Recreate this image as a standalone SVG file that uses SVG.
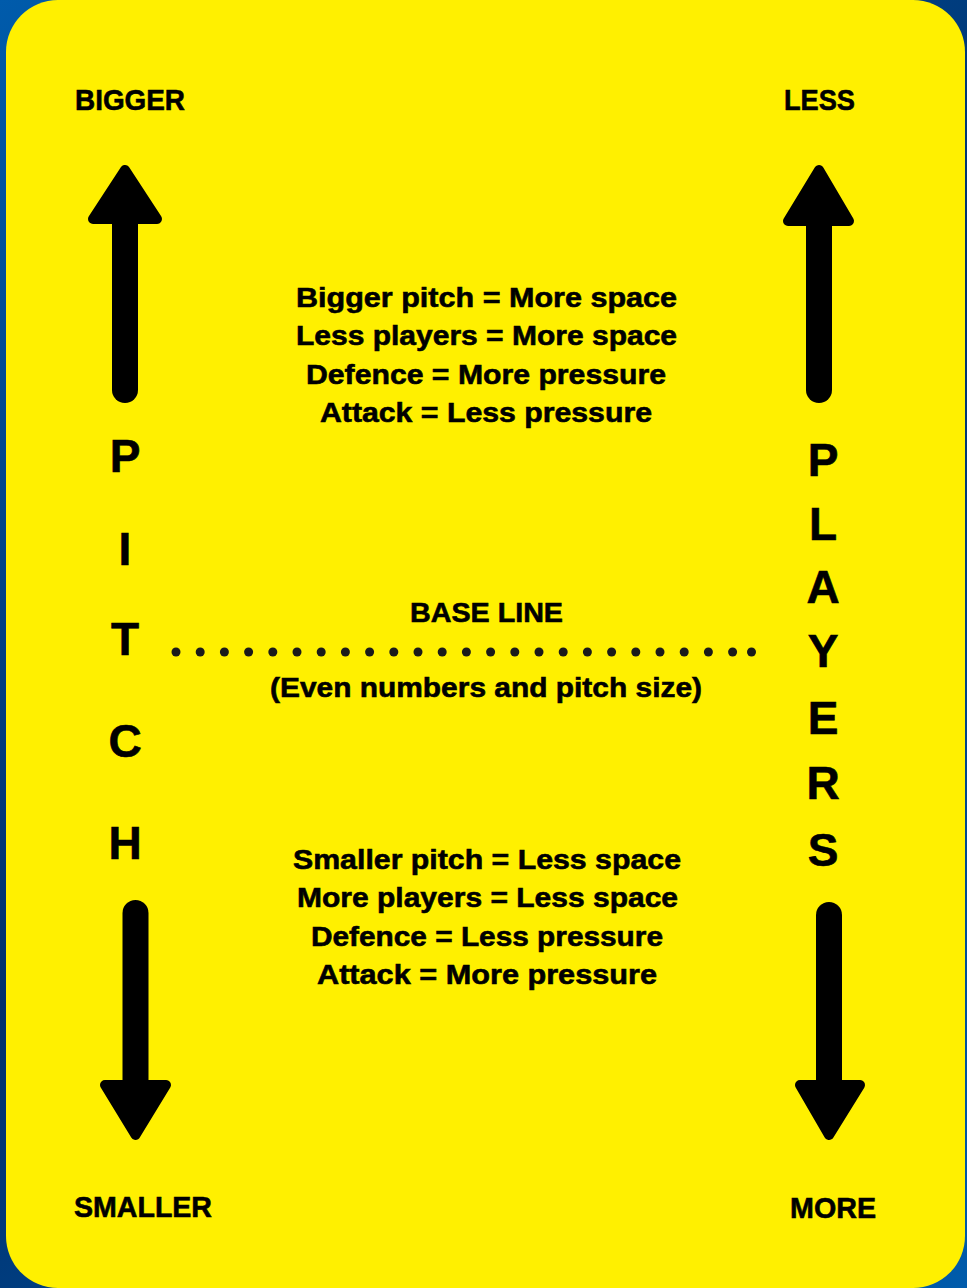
<svg xmlns="http://www.w3.org/2000/svg" width="967" height="1288" viewBox="0 0 967 1288">
<defs>
<linearGradient id="bg" x1="0" y1="0" x2="967" y2="1288" gradientUnits="userSpaceOnUse">
<stop offset="0" stop-color="#005bab"/>
<stop offset="0.5" stop-color="#00306c"/>
<stop offset="1" stop-color="#005bab"/>
</linearGradient>
<style>
.t{font-family:"Liberation Sans",Arial,sans-serif;font-weight:bold;fill:#000;stroke:#000;stroke-width:0.6;}
.lbl{font-size:30px;}
.body{font-size:28.5px;}
.v{font-size:46px;text-anchor:middle;}
.shaft{stroke:#000;stroke-width:26;stroke-linecap:round;fill:none;}
.head{fill:#000;stroke:#000;stroke-width:10;stroke-linejoin:round;}
.dot{fill:#1a1a1a;}
</style>
</defs>
<rect x="0" y="0" width="967" height="1288" fill="url(#bg)"/>
<rect x="6" y="0" width="959" height="1288" rx="52" ry="52" fill="#fff000"/>

<g id="connectors">
<g id="arrow-pitch-up"><line class="shaft" x1="125" y1="215" x2="125" y2="390"/><polygon class="head" points="125,170 157,219 93,219"/></g>
<g id="arrow-players-up"><line class="shaft" x1="819" y1="215" x2="819" y2="390"/><polygon class="head" points="819,170 849,221 788,221"/></g>
<g id="arrow-pitch-down"><line class="shaft" x1="135.5" y1="913" x2="135.5" y2="1085"/><polygon class="head" points="135.5,1135 166,1085 105,1085"/></g>
<g id="arrow-players-down"><line class="shaft" x1="829" y1="915" x2="829" y2="1085"/><polygon class="head" points="829,1135 860,1085 800,1085"/></g>
<g id="baseline-dots">
<circle class="dot" cx="176" cy="652" r="4.5"/><circle class="dot" cx="200.2" cy="652" r="4.5"/><circle class="dot" cx="224.4" cy="652" r="4.5"/><circle class="dot" cx="248.6" cy="652" r="4.5"/><circle class="dot" cx="272.8" cy="652" r="4.5"/><circle class="dot" cx="297" cy="652" r="4.5"/><circle class="dot" cx="321.2" cy="652" r="4.5"/><circle class="dot" cx="345.4" cy="652" r="4.5"/><circle class="dot" cx="369.6" cy="652" r="4.5"/><circle class="dot" cx="393.8" cy="652" r="4.5"/><circle class="dot" cx="418" cy="652" r="4.5"/><circle class="dot" cx="442.2" cy="652" r="4.5"/><circle class="dot" cx="466.4" cy="652" r="4.5"/><circle class="dot" cx="490.6" cy="652" r="4.5"/><circle class="dot" cx="514.8" cy="652" r="4.5"/><circle class="dot" cx="539" cy="652" r="4.5"/><circle class="dot" cx="563.2" cy="652" r="4.5"/><circle class="dot" cx="587.4" cy="652" r="4.5"/><circle class="dot" cx="611.6" cy="652" r="4.5"/><circle class="dot" cx="635.8" cy="652" r="4.5"/><circle class="dot" cx="660" cy="652" r="4.5"/><circle class="dot" cx="684.2" cy="652" r="4.5"/><circle class="dot" cx="708.4" cy="652" r="4.5"/><circle class="dot" cx="732.6" cy="652" r="4.5"/><circle class="dot" cx="751.5" cy="652" r="4.5"/>
</g>
</g>

<g id="label-bigger"><text class="t lbl" x="75" y="110" textLength="110" lengthAdjust="spacingAndGlyphs">BIGGER</text></g>
<g id="label-less"><text class="t lbl" x="784" y="110" textLength="71" lengthAdjust="spacingAndGlyphs">LESS</text></g>
<g id="label-smaller"><text class="t lbl" x="74" y="1217" textLength="138" lengthAdjust="spacingAndGlyphs">SMALLER</text></g>
<g id="label-more"><text class="t lbl" x="790" y="1218" textLength="86" lengthAdjust="spacingAndGlyphs">MORE</text></g>

<g id="pitch-word">
<text class="t v" x="125" y="472">P</text>
<text class="t v" x="125" y="565">I</text>
<text class="t v" x="125" y="655">T</text>
<text class="t v" x="125" y="757">C</text>
<text class="t v" x="125" y="859">H</text>
</g>
<g id="players-word">
<text class="t v" x="823" y="476">P</text>
<text class="t v" x="823" y="540">L</text>
<text class="t v" x="823" y="603">A</text>
<text class="t v" x="823" y="667">Y</text>
<text class="t v" x="823" y="734">E</text>
<text class="t v" x="823" y="799">R</text>
<text class="t v" x="823" y="866">S</text>
</g>

<g id="top-text">
<text class="t body" x="296" y="307" textLength="381" lengthAdjust="spacingAndGlyphs">Bigger pitch = More space</text>
<text class="t body" x="296" y="345" textLength="381" lengthAdjust="spacingAndGlyphs">Less players = More space</text>
<text class="t body" x="306" y="384" textLength="360" lengthAdjust="spacingAndGlyphs">Defence = More pressure</text>
<text class="t body" x="320" y="422" textLength="332" lengthAdjust="spacingAndGlyphs">Attack = Less pressure</text>
</g>

<g id="base-line">
<text class="t body" x="410" y="622" textLength="153" lengthAdjust="spacingAndGlyphs">BASE LINE</text>
<text class="t body" x="270" y="697" textLength="432" lengthAdjust="spacingAndGlyphs">(Even numbers and pitch size)</text>
</g>

<g id="bottom-text">
<text class="t body" x="293" y="869" textLength="388" lengthAdjust="spacingAndGlyphs">Smaller pitch = Less space</text>
<text class="t body" x="297" y="907" textLength="381" lengthAdjust="spacingAndGlyphs">More players = Less space</text>
<text class="t body" x="311" y="946" textLength="352" lengthAdjust="spacingAndGlyphs">Defence = Less pressure</text>
<text class="t body" x="317" y="984" textLength="340" lengthAdjust="spacingAndGlyphs">Attack = More pressure</text>
</g>
</svg>
